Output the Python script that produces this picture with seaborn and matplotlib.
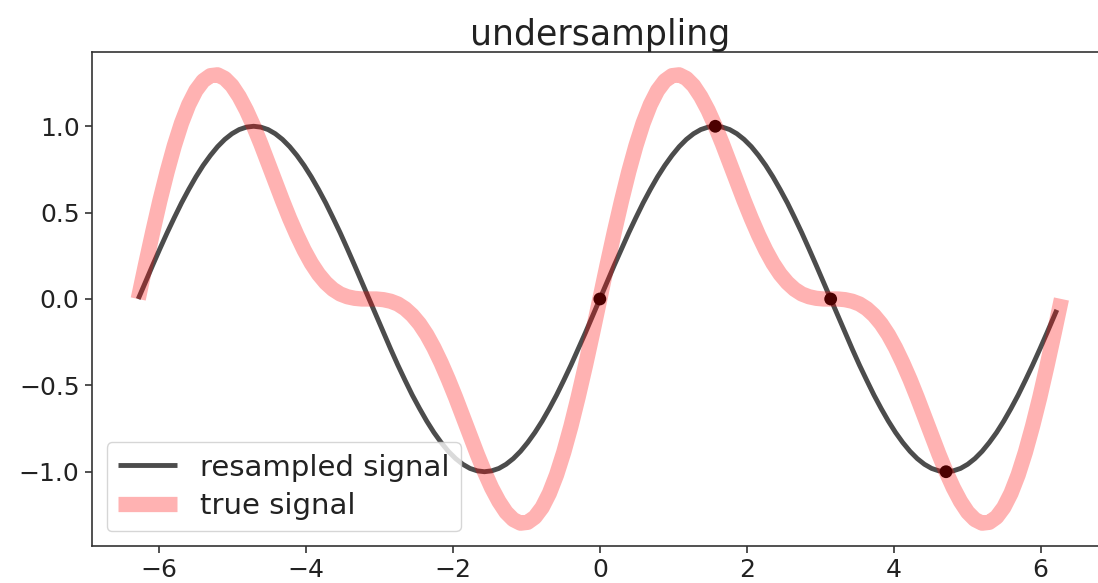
import matplotlib
matplotlib.use("Agg")
import matplotlib.pyplot as plt
import seaborn as sns
import pandas as pd

# sample positions (x >= 0) shared by both curves
x_pos = [0.000, 0.098, 0.196, 0.295, 0.393, 0.491, 0.589, 0.687, 0.785, 0.884,
         0.982, 1.080, 1.178, 1.276, 1.374, 1.473, 1.571, 1.669, 1.767, 1.865,
         1.963, 2.062, 2.160, 2.258, 2.356, 2.454, 2.553, 2.651, 2.749, 2.847,
         2.945, 3.043, 3.142, 3.240, 3.338, 3.436, 3.534, 3.633, 3.731, 3.829,
         3.927, 4.025, 4.123, 4.222, 4.320, 4.418, 4.516, 4.614, 4.712, 4.811,
         4.909, 5.007, 5.105, 5.203, 5.301, 5.400, 5.498, 5.596, 5.694, 5.792,
         5.890, 5.989, 6.087, 6.185, 6.283]
# resampled signal at x_pos
resampled_pos = [0.000, 0.098, 0.195, 0.290, 0.383, 0.471, 0.556, 0.634, 0.707, 0.773,
                 0.831, 0.882, 0.924, 0.957, 0.981, 0.995, 1.000, 0.995, 0.981, 0.957,
                 0.924, 0.882, 0.831, 0.773, 0.707, 0.634, 0.556, 0.471, 0.383, 0.290,
                 0.195, 0.098, 0.000, -0.098, -0.195, -0.290, -0.383, -0.471, -0.556, -0.634,
                 -0.707, -0.773, -0.831, -0.882, -0.924, -0.957, -0.981, -0.995, -1.000, -0.995,
                 -0.981, -0.957, -0.924, -0.882, -0.831, -0.773, -0.707, -0.634, -0.556, -0.471,
                 -0.383, -0.290, -0.195, -0.098, 0.000]
# true signal at x_pos
true_pos = [0.000, 0.196, 0.386, 0.568, 0.736, 0.887, 1.018, 1.125, 1.207, 1.263,
            1.293, 1.298, 1.277, 1.235, 1.172, 1.093, 1.000, 0.898, 0.789, 0.679,
            0.570, 0.466, 0.370, 0.283, 0.207, 0.144, 0.094, 0.056, 0.029, 0.013,
            0.004, 0.000, 0.000, -0.000, -0.004, -0.013, -0.029, -0.056, -0.094, -0.144,
            -0.207, -0.283, -0.370, -0.466, -0.570, -0.679, -0.789, -0.898, -1.000, -1.093,
            -1.172, -1.235, -1.277, -1.298, -1.293, -1.263, -1.207, -1.125, -1.018, -0.887,
            -0.736, -0.568, -0.386, -0.196, 0.000]
# end point of the resampled curve
resampled_end_x = 6.220
resampled_end_y = -0.063

# sampled points
sample_x = [0.0, 1.571, 3.142, 4.712]
sample_y = [0.0, 1.0, 0.0, -1.0]

x_ticks = [-6, -4, -2, 0, 2, 4, 6]
x_tick_labels = ["\u22126", "\u22124", "\u22122", "0", "2", "4", "6"]
y_ticks = [-1.0, -0.5, 0.0, 0.5, 1.0]
y_tick_labels = ["\u22121.0", "\u22120.5", "0.0", "0.5", "1.0"]

# full curves: negative side mirrors the positive side (odd signals)
x_true = [-v for v in x_pos[::-1]] + x_pos[1:]
y_true = [-v for v in true_pos[::-1]] + true_pos[1:]
x_res = [-v for v in x_pos[::-1]] + x_pos[1:-1] + [resampled_end_x]
y_res = [-v for v in resampled_pos[::-1]] + resampled_pos[1:-1] + [resampled_end_y]

df_res = pd.DataFrame({"x": x_res, "y": y_res})
df_true = pd.DataFrame({"x": x_true, "y": y_true})
df_pts = pd.DataFrame({"x": sample_x, "y": sample_y})

sns.set_style("ticks")
plt.rcParams["font.family"] = ["DejaVu Sans"]

fig = plt.figure(figsize=(10.98, 5.83), dpi=100)
ax = fig.add_axes([0.0838, 0.0635, 0.925, 0.8473])

sns.lineplot(data=df_res, x="x", y="y", ax=ax, sort=False, color="k", alpha=0.7,
             lw=3.5, label="resampled signal", zorder=2, solid_capstyle="butt")
sns.scatterplot(data=df_pts, x="x", y="y", ax=ax, color="k", s=85,
                edgecolor="none", zorder=3, legend=False)
sns.lineplot(data=df_true, x="x", y="y", ax=ax, sort=False, color="red", alpha=0.3,
             lw=11, label="true signal", zorder=4, solid_capstyle="butt")

ax.set_xlim(-6.912, 6.912)
ax.set_ylim(-1.43, 1.43)
ax.set_xticks(x_ticks)
ax.set_xticklabels(x_tick_labels)
ax.set_yticks(y_ticks)
ax.set_yticklabels(y_tick_labels)
ax.set_xlabel("")
ax.set_ylabel("")
ax.tick_params(labelsize=18, length=5, width=1.2, pad=4, color="#333333", labelcolor="#222222")
for s in ax.spines.values():
    s.set_color("#333333")
    s.set_linewidth(1.2)
ax.set_title("undersampling", fontsize=25, color="#222222", pad=5)

leg = ax.legend(loc="lower left", fontsize=21, frameon=True, handlelength=2.0,
                borderaxespad=0.5, labelspacing=0.35)
leg.get_frame().set_edgecolor("#cccccc")
for t in leg.get_texts():
    t.set_color("#222222")
for h in leg.get_lines():
    h.set_solid_capstyle("butt")

fig.savefig("out.png", dpi=100)
